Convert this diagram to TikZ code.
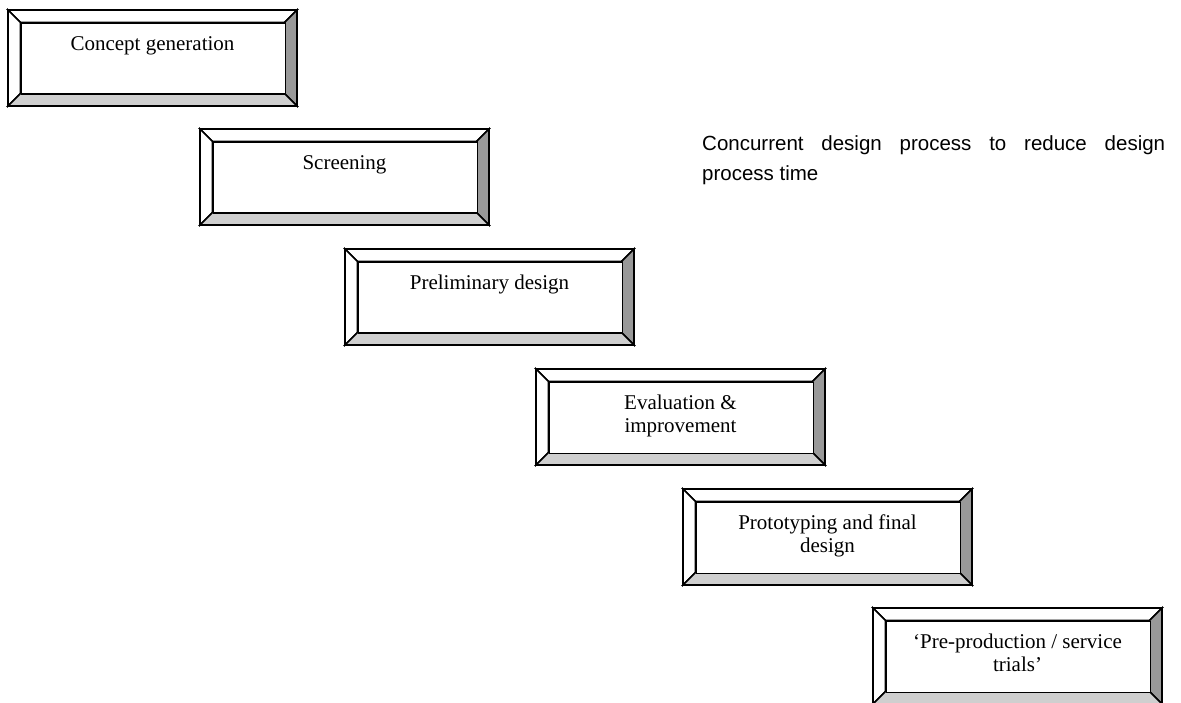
\documentclass[tikz,border=0pt]{standalone}
\usepackage{fontspec}
\setmainfont{Liberation Serif}
\newfontfamily\notefont{Liberation Sans}
\definecolor{bevelshade}{HTML}{999999}
\definecolor{bevellight}{HTML}{CFCFCF}
\tikzset{
  edge/.style={draw=black, line width=1.6pt, line join=miter},
  face/.style={edge, fill=white, inner sep=0pt, anchor=north west,
    minimum width=264pt, minimum height=71pt},
  caption/.style={anchor=base, inner sep=0pt,
    font=\fontsize{21}{23}\selectfont},
  note/.style={anchor=base west, inner sep=0pt,
    font=\notefont\fontsize{20.5}{29.5}\selectfont}
}
% A raised, bevelled panel: name, left, top, caption
\newcommand\bevelpanel[4]{%
  \begin{scope}[shift={(#2,#3)}]
    \filldraw[edge, fill=white] (0,0) -- (289,0) -- (276.5,12.5) -- (12.5,12.5) -- cycle;
    \filldraw[edge, fill=white] (0,0) -- (12.5,12.5) -- (12.5,83.5) -- (0,96) -- cycle;
    \filldraw[edge, fill=bevelshade] (289,0) -- (289,96) -- (276.5,83.5) -- (276.5,12.5) -- cycle;
    \filldraw[edge, fill=bevellight] (0,96) -- (289,96) -- (276.5,83.5) -- (12.5,83.5) -- cycle;
    \node[face] (#1) at (12.5,12.5) {};
    \node[caption] (#1-text) at (144.5,40.5)
      {\begin{tabular}[t]{@{}c@{}}#4\end{tabular}};
  \end{scope}}
\begin{document}
\begin{tikzpicture}[x=1pt,y=-1pt]
  \useasboundingbox (0,0) rectangle (1181,703);
  \bevelpanel{concept}{8}{10}{Concept generation}
  \bevelpanel{screen}{200}{129}{Screening}
  \bevelpanel{prelim}{345}{249}{Preliminary design}
  \bevelpanel{evalu}{536}{369}{Evaluation \&\\ improvement}
  \bevelpanel{proto}{683}{489}{Prototyping and final\\ design}
  \bevelpanel{preprod}{873}{608}{`Pre-production / service\\ trials'}
  \node[note] (remark) at (702,151)
    {\begin{tabular}[t]{@{}l@{}}\makebox[463pt][s]{Concurrent design process to reduce design}\\ process time\end{tabular}};
\end{tikzpicture}
\end{document}
